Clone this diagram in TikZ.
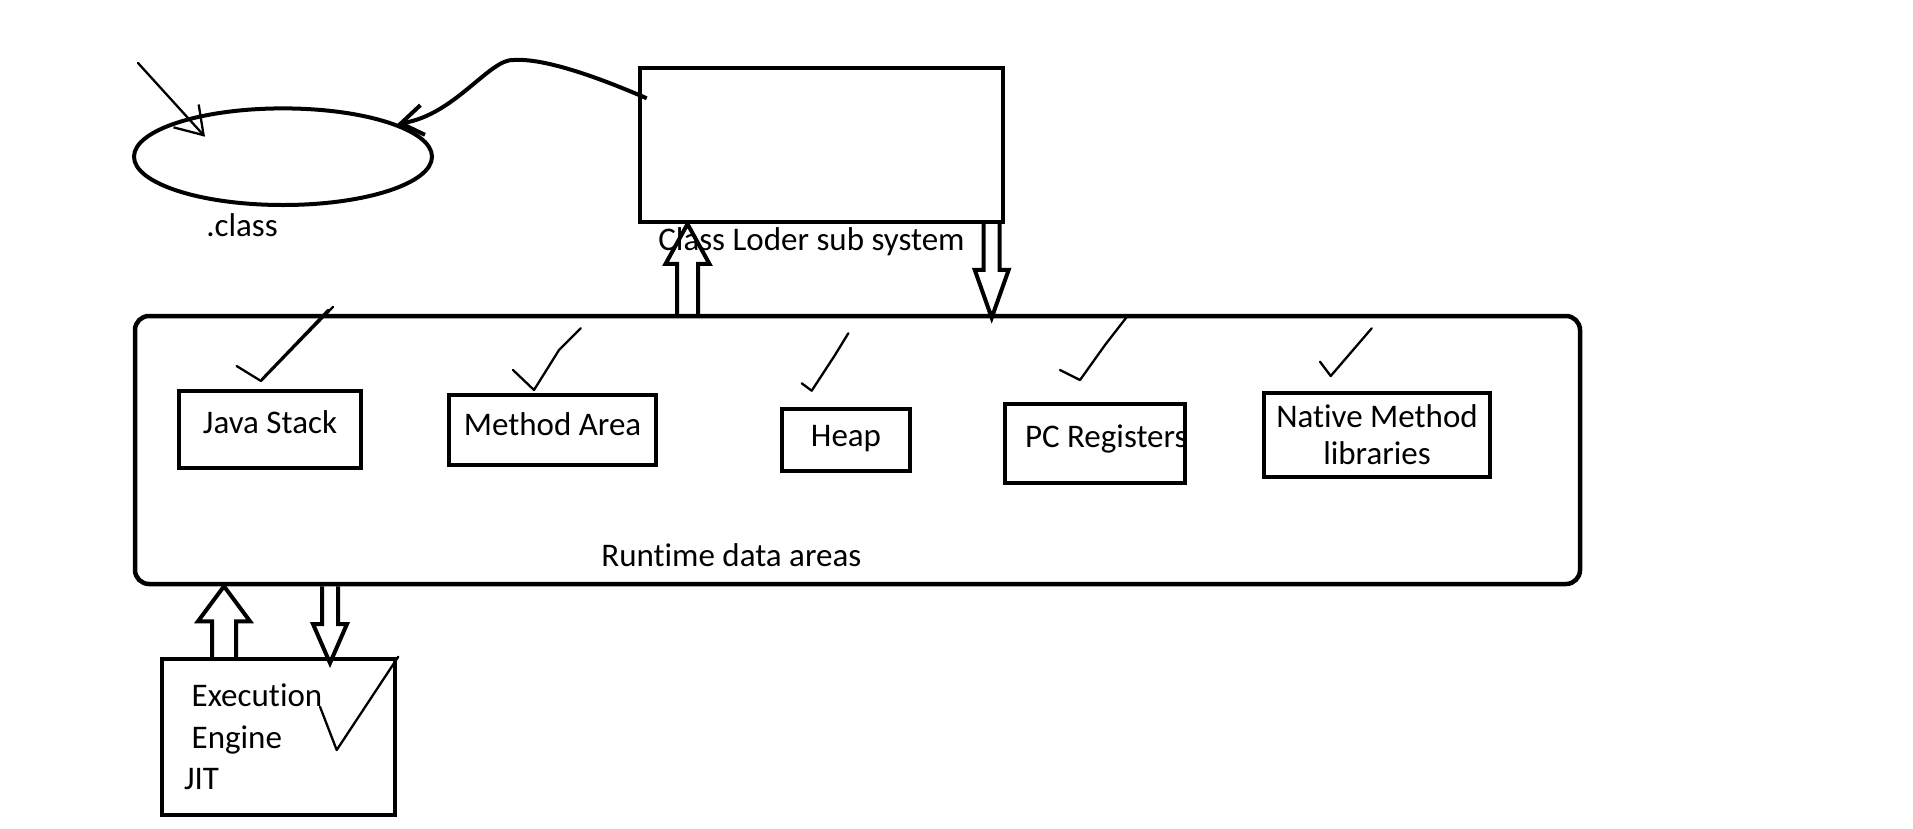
\documentclass[tikz,border=0pt]{standalone}
\usepackage{fontspec}
\setmainfont{Carlito}[Ligatures=CommonOff]
\usetikzlibrary{positioning,calc,shapes.geometric,arrows.meta}

\begin{document}
\begin{tikzpicture}[x=1pt,y=-1pt,
		every node/.style={font=\fontsize{33}{40}\selectfont,inner sep=0pt},
		area/.style={draw,line width=4pt,text height=23pt,text depth=16pt},
		oval/.style={draw,ellipse,line width=4pt},
		tick/.style={line width=2.3pt,line cap=round,line join=round},
		block/.style n args={3}{line width=4pt,to path={let \p1=(\tikztostart),\p2=(\tikztotarget),\p3=($(\tikztotarget)!#3!(\tikztostart)$) in (\x1-#1,\y1) -- (\x1-#1,\y3) -- (\x1-#2,\y3) -- (\x1,\y2) -- (\x1+#2,\y3) -- (\x1+#1,\y3) -- (\x1+#1,\y1)}}]
	\useasboundingbox (0,0) rectangle (1913,828);

	\node[oval,minimum width=298pt,minimum height=96.6pt]				(0)	at (283,156.7)	{};
	\node[node distance=6pt,below=of 0,xshift=-41pt]					(1)	{.class};
	\node[draw,line width=4pt,minimum width=363pt,minimum height=154pt]	(2)	at (821.5,145)	{};
	\node[node distance=3.8pt,below=of 2,xshift=-10pt]					(3)	{Class Loder sub system};

	\node[draw,line width=4.5pt,rounded corners=14pt,minimum width=1445pt,minimum height=268pt]	(4)	at (857.5,450)	{};
	\node[anchor=base]													(5)	at (731.3,566.7)	{Runtime data areas};
	\node[area,minimum width=182pt,minimum height=77pt]					(6)	at (270,429.5)	{Java Stack};
	\node[area,minimum width=207pt,minimum height=70pt,text depth=13pt]	(7)	at (552.5,430)	{Method Area};
	\node[area,minimum width=128pt,minimum height=62pt,text depth=9.6pt]	(8)	at (846,440)	{Heap};
	\node[area,minimum width=180pt,minimum height=79pt,inner xsep=20pt]	(9)	at (1095,443.5)	{\makebox[140pt][l]{PC Registers}};
	\node[draw,line width=4pt,minimum width=226pt,minimum height=84pt,align=center,font=\fontsize{33}{36.7}\selectfont]	(10)	at (1377,435)	{Native Method\\libraries};

	\node[draw,line width=4pt,minimum width=233pt,minimum height=156pt,text width=189pt,inner xsep=22pt,align=left,font=\fontsize{33}{41.3}\selectfont]	(11)	at (278.5,737)	{\hspace*{7.7pt}Execution\\\hspace*{7.7pt}Engine\\JIT};

	\coordinate (12) at (138,63);
	\draw[tick,-{Straight Barb[length=26pt,width=34pt]}] (12) -- ([xshift=-78pt,yshift=20pt]0.center);
	\draw[line width=4pt,-{Straight Barb[length=22pt,width=30pt]}] ([xshift=8.7pt,yshift=46.7pt]2.west) .. controls (600,78) and (545,58) .. (514,60) .. controls (490,58) and (455,115) .. (0.16);

	\draw[block={10.5pt}{22pt}{40pt}] ([xshift=554.75pt]4.north west) to ([xshift=47.5pt]2.south west);
	\draw[block={8pt}{17pt}{48pt}] ([xshift=353.7pt]2.south west) to ([xshift=858.95pt,yshift=-4pt]4.north west);
	\draw[block={12pt}{26pt}{35pt}] ([xshift=64pt]11.north west) to ([xshift=91.25pt]4.south west);
	\draw[block={8pt}{17pt}{39pt}] ([xshift=197.25pt]4.south west) to ([xshift=170pt,yshift=-6pt]11.north west);

	\draw[tick] (236.6,366) -- (261,381) -- (333,307);
	\draw[tick] (262,379) -- (328,310);
	\draw[tick] (513,370) -- (534,390) -- (559,350) -- (580.7,328.3);
	\draw[tick] (801.7,383.3) -- (811.7,390.7) -- (835,355) -- (848.3,333.3);
	\draw[tick] (1060,370) -- (1080,380) -- (1105,345) -- (1128.3,315);
	\draw[tick] (1320,361.7) -- (1330.7,376) -- (1371.7,328.3);
	\draw[tick] (320,706.7) -- (336.7,750) -- (398.3,656.7);
\end{tikzpicture}
\end{document}
